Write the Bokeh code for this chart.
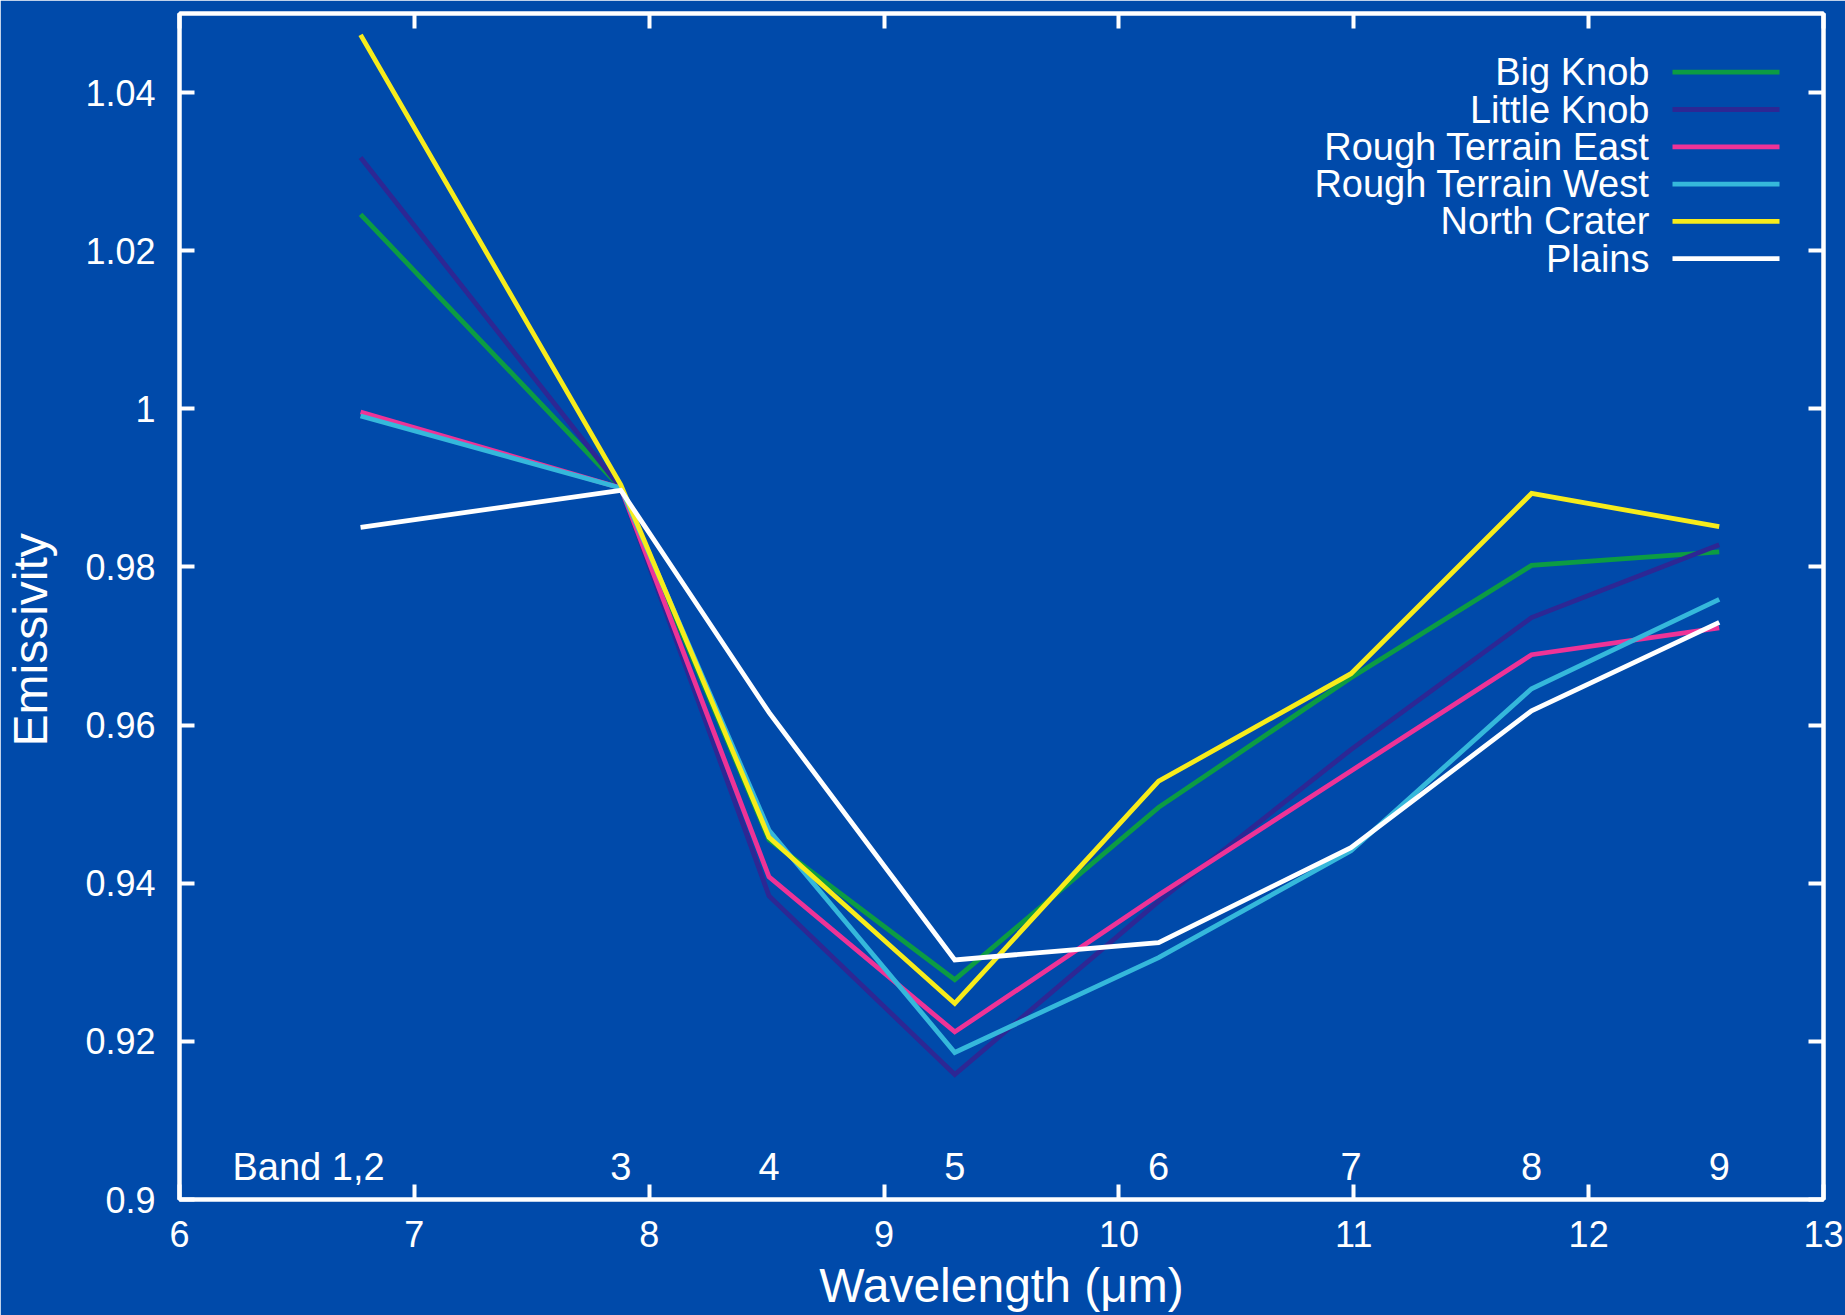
from bokeh.plotting import figure
from bokeh.models import Range1d, LinearAxis, FixedTicker, Label, BoxAnnotation
from bokeh.embed import file_html
from bokeh.resources import INLINE
from bokeh.core.properties import value

# ---------------- data ----------------
band_labels = ["Band 1,2", "3", "4", "5", "6", "7", "8", "9"]
wavelength = [6.771, 7.879, 8.510, 9.301, 10.169, 10.988, 11.757, 12.556]

big_knob = [1.0246, 0.9900, 0.9455, 0.9278, 0.9496, 0.9660, 0.9802, 0.9819]
little_knob = [1.0318, 0.9900, 0.9384, 0.9158, 0.9377, 0.9569, 0.9736, 0.9828]
rough_terrain_east = [0.9996, 0.9900, 0.9408, 0.9212, 0.9385, 0.9542, 0.9689, 0.9723]
rough_terrain_west = [0.9991, 0.9900, 0.9467, 0.9186, 0.9306, 0.9441, 0.9646, 0.9759]
north_crater = [1.0473, 0.9904, 0.9458, 0.9248, 0.9529, 0.9665, 0.9893, 0.9851]
plains = [0.9850, 0.9897, 0.9616, 0.9303, 0.9325, 0.9445, 0.9618, 0.9730]

series_names = ["Big Knob", "Little Knob", "Rough Terrain East",
                "Rough Terrain West", "North Crater", "Plains"]
series_values = [big_knob, little_knob, rough_terrain_east,
                 rough_terrain_west, north_crater, plains]
series_colors = ["#0C9C43", "#2D2794", "#EE3397", "#35B8DB", "#F7EC1B", "#FFFFFF"]

x_ticks = [6, 7, 8, 9, 10, 11, 12, 13]
y_ticks = [0.9, 0.92, 0.94, 0.96, 0.98, 1.0, 1.02, 1.04]
y_tick_labels = ["0.9", "0.92", "0.94", "0.96", "0.98", "1", "1.02", "1.04"]

x_title = "Wavelength (μm)"
y_title = "Emissivity"

# ---------------- style ----------------
BG = "#004AAA"
FONT = "Liberation Sans"
TICK = "36px"
SMALL = "38px"
BIG = "48px"
LW = 4.8
W, H = 1845, 1315
FL, FR, FT, FB = 179, 22, 13, 116  # borders around the frame

p = figure(width=W, height=H, output_backend="svg", toolbar_location=None,
           x_range=Range1d(6, 13), y_range=Range1d(0.9, 1.05),
           background_fill_color=BG, border_fill_color=BG,
           min_border_left=FL, min_border_right=FR, min_border_top=FT,
           min_border_bottom=FB,
           outline_line_color="white", outline_line_width=4)
p.grid.visible = False


def style_axis(ax, standoff):
    ax.axis_line_color = "white"
    ax.axis_line_width = 4
    ax.major_tick_line_color = "white"
    ax.major_tick_line_width = 4
    ax.major_tick_in = 15
    ax.major_tick_out = 0
    ax.minor_tick_line_color = None
    ax.major_label_text_color = "white"
    ax.major_label_text_font = FONT
    ax.major_label_text_font_size = TICK
    ax.major_label_standoff = standoff
    ax.axis_label_text_color = "white"
    ax.axis_label_text_font = FONT
    ax.axis_label_text_font_size = BIG
    ax.axis_label_text_font_style = "normal"


xa = p.xaxis[0]
xa.ticker = FixedTicker(ticks=x_ticks)
style_axis(xa, 21)
xa.axis_label = x_title
xa.axis_label_standoff = 9

ya = p.yaxis[0]
ya.ticker = FixedTicker(ticks=y_ticks)
ya.major_label_overrides = {t: s for t, s in zip(y_ticks, y_tick_labels)}
style_axis(ya, 24)
# trailing non-breaking spaces nudge the centred title a little downwards
ya.axis_label = y_title + "\u00a0" * 5
ya.axis_label_standoff = 25

top = LinearAxis(ticker=FixedTicker(ticks=x_ticks),
                 major_label_overrides={t: "" for t in x_ticks})
style_axis(top, 0)
top.major_label_text_font_size = "1px"
p.add_layout(top, "above")

right = LinearAxis(ticker=FixedTicker(ticks=y_ticks),
                   major_label_overrides={t: "" for t in y_ticks})
style_axis(right, 0)
right.major_label_text_font_size = "1px"
p.add_layout(right, "right")

# ---------------- lines ----------------
for vals, col in zip(series_values, series_colors):
    p.line(wavelength, vals, line_color=col, line_width=LW, line_join="miter")

# ---------------- band labels ----------------
y0 = p.y_range.start
p.text(x=wavelength[1:], y=[y0] * (len(wavelength) - 1), text=band_labels[1:],
       text_align="center", text_baseline="middle", y_offset=-33,
       text_color="white", text_font=value(FONT), text_font_size=SMALL)
p.text(x=wavelength[:1], y=[y0], text=band_labels[:1],
       text_align="right", text_baseline="middle", x_offset=24, y_offset=-33,
       text_color="white", text_font=value(FONT), text_font_size=SMALL)

# ---------------- legend (labels left of the line samples) ----------------
frame_h = H - FT - FB
ppu = frame_h / (p.y_range.end - p.y_range.start)
for i, (name, col) in enumerate(zip(series_names, series_colors)):
    yc = p.y_range.end - (58.7 + 37.3 * i) / ppu
    p.add_layout(Label(x=1470, y=yc, x_units="screen", y_units="data", text=name,
                       text_align="right", text_baseline="middle",
                       text_color="white", text_font=FONT, text_font_size=SMALL))
    p.add_layout(BoxAnnotation(left=1493, right=1600, left_units="screen",
                               right_units="screen",
                               top=yc + 2.4 / ppu, bottom=yc - 2.4 / ppu,
                               fill_color=col, fill_alpha=1.0, line_color=None))

open("out.html", "w").write(file_html(p, INLINE))
